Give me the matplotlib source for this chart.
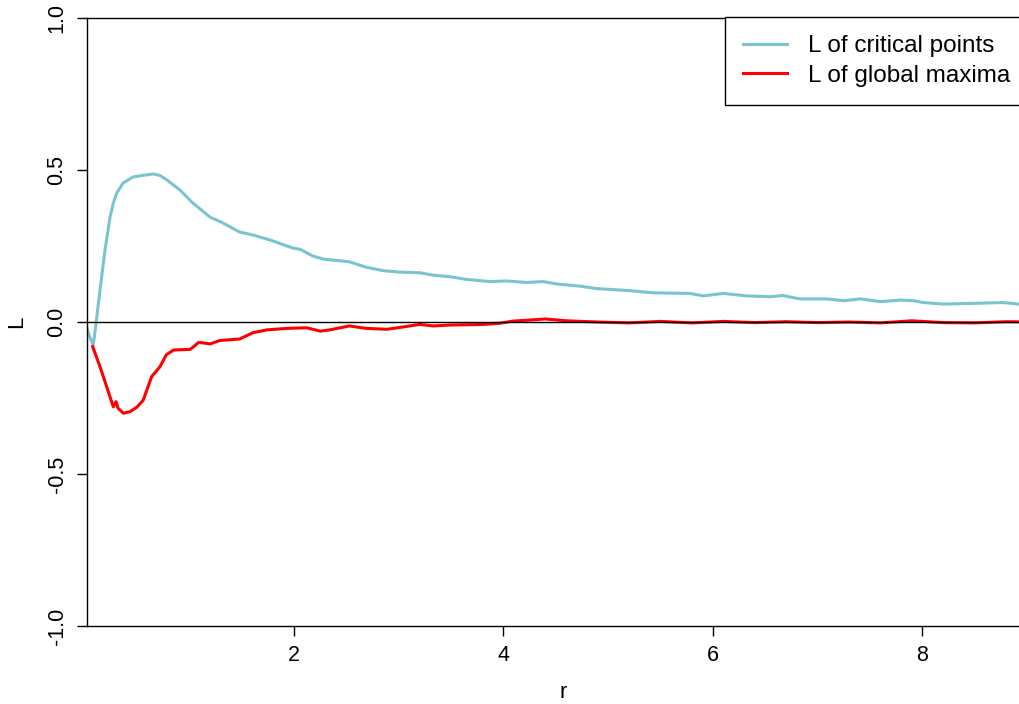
import matplotlib
matplotlib.use("Agg")
import matplotlib.pyplot as plt

plt.rcParams["font.family"] = ["Liberation Sans", "DejaVu Sans"]

# L-function estimates against distance r
r_crit = [0.023, 0.05, 0.083, 0.11, 0.147, 0.195, 0.243, 0.274, 0.307, 0.367,
          0.462, 0.55, 0.653, 0.72, 0.787, 0.911, 1.035, 1.11, 1.198, 1.32,
          1.48, 1.61, 1.77, 1.99, 2.06, 2.18, 2.28, 2.53, 2.69, 2.85,
          3.01, 3.20, 3.33, 3.49, 3.65, 3.87, 4.03, 4.22, 4.38, 4.51,
          4.73, 4.89, 5.21, 5.43, 5.78, 5.91, 6.10, 6.32, 6.55, 6.67,
          6.83, 7.09, 7.25, 7.41, 7.60, 7.79, 7.92, 8.01, 8.20, 8.46,
          8.77, 8.92, 9.10]
L_crit = [-0.02, -0.05, -0.076, -0.003, 0.105, 0.237, 0.345, 0.391, 0.424, 0.457,
          0.477, 0.482, 0.487, 0.482, 0.467, 0.434, 0.391, 0.37, 0.345, 0.326,
          0.296, 0.286, 0.27, 0.243, 0.239, 0.217, 0.207, 0.198, 0.18, 0.169,
          0.164, 0.162, 0.154, 0.149, 0.14, 0.133, 0.135, 0.13, 0.133, 0.125,
          0.118, 0.11, 0.103, 0.096, 0.094, 0.086, 0.094, 0.086, 0.083, 0.087,
          0.076, 0.076, 0.070, 0.076, 0.067, 0.072, 0.070, 0.064, 0.059, 0.061,
          0.064, 0.059, 0.058]

r_max = [0.077, 0.147, 0.211, 0.274, 0.30, 0.32, 0.37, 0.434, 0.50, 0.56,
         0.64, 0.72, 0.78, 0.85, 1.01, 1.09, 1.20, 1.29, 1.48, 1.61,
         1.74, 1.93, 2.12, 2.25, 2.34, 2.53, 2.69, 2.89, 3.01, 3.20,
         3.33, 3.49, 3.81, 3.97, 4.09, 4.28, 4.40, 4.60, 4.90, 5.20,
         5.50, 5.80, 6.10, 6.40, 6.70, 7.00, 7.30, 7.60, 7.90, 8.20,
         8.50, 8.80, 9.10]
L_max = [-0.081, -0.147, -0.213, -0.279, -0.262, -0.284, -0.30, -0.295, -0.28, -0.257,
         -0.18, -0.147, -0.108, -0.092, -0.09, -0.067, -0.072, -0.061, -0.056, -0.035,
         -0.026, -0.021, -0.019, -0.03, -0.026, -0.013, -0.021, -0.024, -0.018, -0.008,
         -0.013, -0.01, -0.008, -0.004, 0.003, 0.007, 0.01, 0.004, 0.0, -0.003,
         0.002, -0.003, 0.002, -0.002, 0.001, -0.002, 0.0, -0.003, 0.004, -0.002,
         -0.003, 0.001, 0.0]

W, H = 1019, 704
fig = plt.figure(figsize=(W / 100, H / 100), dpi=100)
# plot region runs off the right edge of the canvas
ax = fig.add_axes([87 / W, (H - 626) / H, (1040 - 87) / W, 608 / H])

ax.plot(r_crit, L_crit, color="#7AC5CD", lw=2.2, label="L of critical points")
ax.plot(r_max, L_max, color="red", lw=2.2, label="L of global maxima")
ax.axhline(0, color="black", lw=1.0, zorder=3)

ax.set_xlim(0.023, 9.125)
ax.set_ylim(-1, 1)
ax.set_xticks([2, 4, 6, 8])
ax.set_yticks([-1.0, -0.5, 0.0, 0.5, 1.0])
ax.set_yticklabels(["-1.0", "-0.5", "0.0", "0.5", "1.0"], rotation=90, va="center")
ax.tick_params(axis="both", length=7, width=1, labelsize=15.5, direction="out")
ax.tick_params(axis="x", pad=7)
ax.tick_params(axis="y", pad=7)
for s in ax.spines.values():
    s.set_linewidth(1)
ax.set_xlabel("r", fontsize=16, labelpad=11)
ax.set_ylabel("L", fontsize=16, labelpad=14)

# legend box spans past the right edge, like the plot frame
leg = ax.legend(loc="upper left", bbox_to_anchor=(725 / W, 1 - 17 / H, 330 / W, 0),
                bbox_transform=fig.transFigure, mode="expand", fontsize=17.5,
                frameon=True, fancybox=False, framealpha=1, edgecolor="black",
                borderaxespad=0, borderpad=0.75, handlelength=1.8,
                handletextpad=0.85, labelspacing=0.3)
leg.get_frame().set_linewidth(1)

fig.savefig("out.png", dpi=100, facecolor="white")
